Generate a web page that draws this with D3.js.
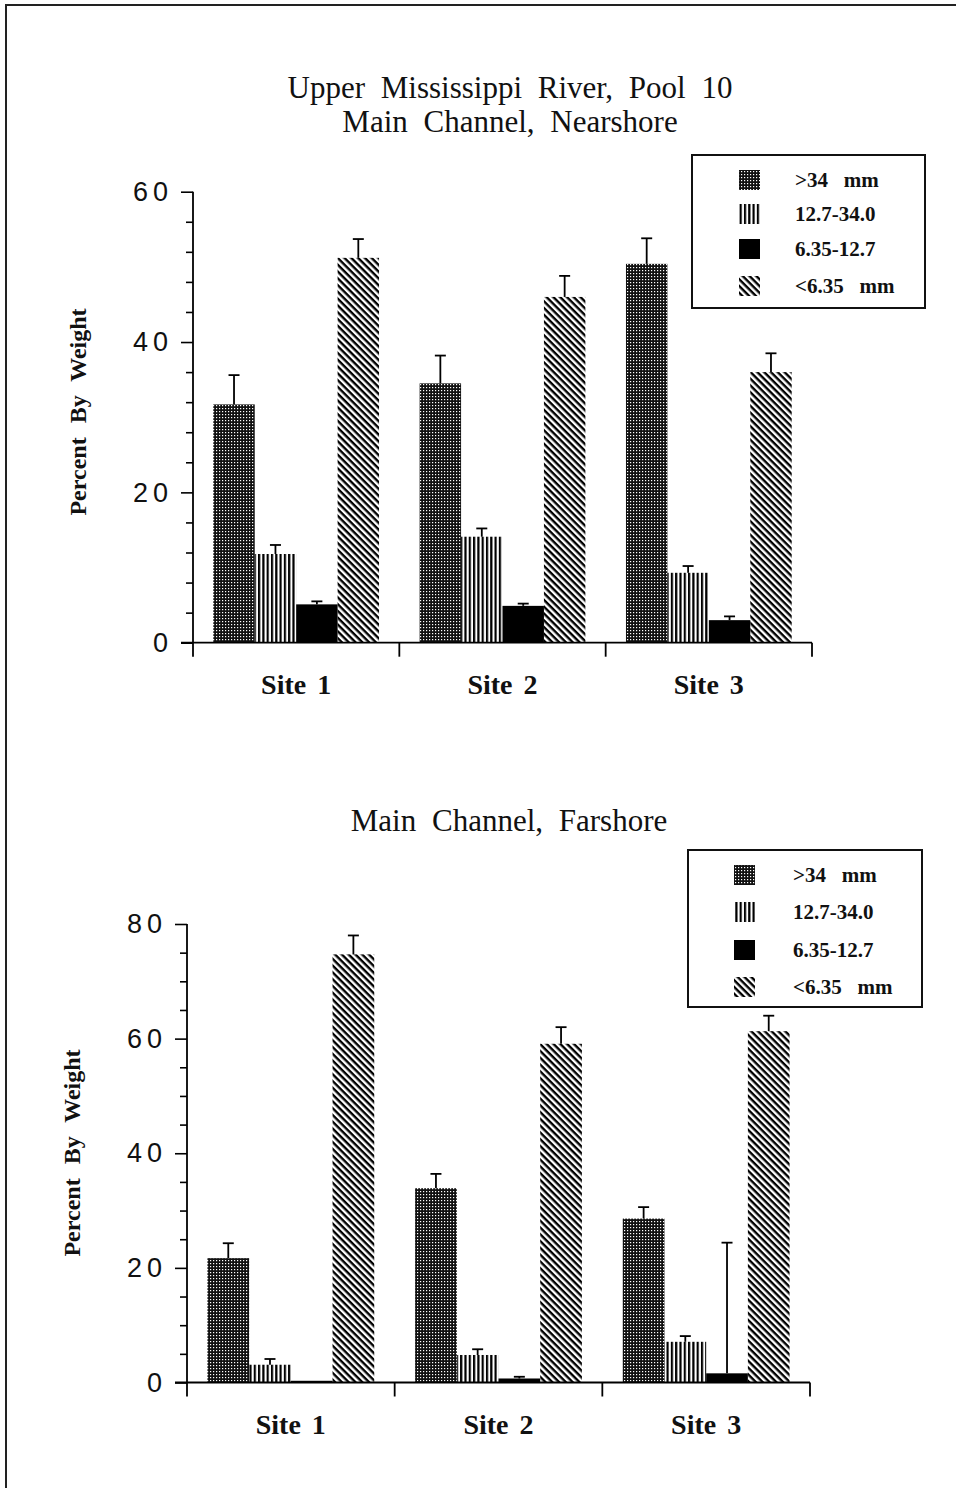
<!DOCTYPE html>
<html>
<head>
<meta charset="utf-8">
<script src="https://cdn.jsdelivr.net/npm/d3@7"></script>
<style>
  body { margin: 0; background: #fff; }
  svg { display: block; }
  .serif { font-family: "Liberation Serif", "Times New Roman", serif; }
  .sans { font-family: "Liberation Sans", Arial, sans-serif; }
</style>
</head>
<body>
<svg id="chart" width="956" height="1488"></svg>
<script>
// ---- data ---------------------------------------------------------------
const sites = ["Site 1", "Site 2", "Site 3"];
const sizeClasses = [">34   mm", "12.7-34.0", "6.35-12.7", "<6.35   mm"];
const fills = ["url(#dots)", "url(#vlines)", "#000", "url(#diag)"];

// Main channel, nearshore: mean percent by weight for each size class
const nearGt34  = [31.7, 34.5, 50.4];
const near127   = [11.8, 14.1, 9.3];
const near635   = [5.1, 4.9, 3.0];
const nearLt635 = [51.2, 46.0, 36.0];
// upper error bars (SE)
const nearErrGt34  = [3.9, 3.7, 3.4];
const nearErr127   = [1.2, 1.1, 0.9];
const nearErr635   = [0.4, 0.3, 0.5];
const nearErrLt635 = [2.5, 2.8, 2.5];

// Main channel, farshore
const farGt34  = [21.7, 33.9, 28.6];
const far127   = [3.1, 4.8, 7.1];
const far635   = [0.3, 0.7, 1.6];
const farLt635 = [74.7, 59.1, 61.3];
const farErrGt34  = [2.6, 2.5, 2.0];
const farErr127   = [1.0, 1.0, 1.0];
const farErr635   = [0.0, 0.3, 22.8];
const farErrLt635 = [3.3, 2.9, 2.7];

const nearTicks = [0, 20, 40, 60];
const farTicks = [0, 20, 40, 60, 80];

// ---- setup --------------------------------------------------------------
const svg = d3.select("#chart");
const defs = svg.append("defs");

// fine dotted screen
const pDots = defs.append("pattern").attr("id", "dots")
  .attr("patternUnits", "userSpaceOnUse").attr("width", 3).attr("height", 3);
pDots.append("rect").attr("width", 3).attr("height", 3).attr("fill", "#111");
pDots.append("rect").attr("width", 1.2).attr("height", 1.2).attr("fill", "#fff");

// vertical stripes
const pV = defs.append("pattern").attr("id", "vlines")
  .attr("patternUnits", "userSpaceOnUse").attr("width", 4.3).attr("height", 10);
pV.append("rect").attr("width", 2.2).attr("height", 10).attr("fill", "#000");

// diagonal stripes running down to the right
const pD = defs.append("pattern").attr("id", "diag")
  .attr("patternUnits", "userSpaceOnUse").attr("width", 4.8).attr("height", 4.8)
  .attr("patternTransform", "rotate(45)");
pD.append("rect").attr("width", 4.8).attr("height", 2.4).attr("fill", "#000");

// page frame (top and left edges)
svg.append("path").attr("d", "M6,1488 V5 H956")
  .attr("fill", "none").attr("stroke", "#222").attr("stroke-width", 2);

function drawPanel(cfg) {
  const g = svg.append("g");
  const y = d3.scaleLinear().domain([0, cfg.max]).range([cfg.y0, cfg.yTop]);
  const x = d3.scaleBand().domain(sites).range([cfg.x0, cfg.x1]);
  const xi = d3.scaleBand().domain(d3.range(4)).range([0, x.bandwidth()])
    .paddingInner(0).paddingOuter(0.49);

  const rows = [];
  sites.forEach((s, si) => {
    cfg.series.forEach((arr, k) => {
      rows.push({ site: s, k, v: arr[si], e: cfg.errs[k][si] });
    });
  });

  // bars
  g.selectAll("rect.bar").data(rows).join("rect")
    .attr("class", "bar")
    .attr("x", d => x(d.site) + xi(d.k))
    .attr("width", xi.bandwidth())
    .attr("y", d => y(d.v))
    .attr("height", d => y(0) - y(d.v))
    .attr("fill", d => fills[d.k]);

  // error bars (upper only)
  const eb = g.selectAll("g.err").data(rows.filter(d => d.e > 0)).join("g")
    .attr("class", "err")
    .attr("stroke", "#000").attr("stroke-width", 1.8);
  eb.append("line")
    .attr("x1", d => x(d.site) + xi(d.k) + xi.bandwidth() / 2)
    .attr("x2", d => x(d.site) + xi(d.k) + xi.bandwidth() / 2)
    .attr("y1", d => y(d.v)).attr("y2", d => y(d.v + d.e));
  eb.append("line")
    .attr("x1", d => x(d.site) + xi(d.k) + xi.bandwidth() / 2 - 5.5)
    .attr("x2", d => x(d.site) + xi(d.k) + xi.bandwidth() / 2 + 5.5)
    .attr("y1", d => y(d.v + d.e)).attr("y2", d => y(d.v + d.e));

  // y axis: major ticks with labels, minor ticks between
  const major = d3.axisLeft(y).tickValues(cfg.ticks).tickSize(12).tickPadding(12)
    .tickFormat(d3.format("d"));
  const ga = g.append("g").attr("transform", `translate(${cfg.x0},0)`).call(major);
  ga.select(".domain").remove();
  ga.selectAll("line").attr("stroke", "#000").attr("stroke-width", 1.6);
  ga.selectAll("text").attr("class", "sans").attr("font-size", 27)
    .attr("letter-spacing", 5).attr("fill", "#111").attr("dx", 4);

  const minorVals = d3.range(0, cfg.max + 0.001, cfg.minorStep)
    .filter(v => !cfg.ticks.includes(v));
  const minor = d3.axisLeft(y).tickValues(minorVals).tickSize(7).tickFormat("");
  const gm = g.append("g").attr("transform", `translate(${cfg.x0},0)`).call(minor);
  gm.select(".domain").remove();
  gm.selectAll("line").attr("stroke", "#000").attr("stroke-width", 1.6);

  // axis lines
  g.append("line").attr("x1", cfg.x0).attr("x2", cfg.x0)
    .attr("y1", y(cfg.max)).attr("y2", y(0) + 14)
    .attr("stroke", "#000").attr("stroke-width", 1.8);
  g.append("line").attr("x1", cfg.x0 - 12).attr("x2", cfg.x1)
    .attr("y1", y(0)).attr("y2", y(0))
    .attr("stroke", "#000").attr("stroke-width", 1.8);

  // category boundary ticks on the x axis
  const bounds = sites.map(s => x(s)).concat([cfg.x1]);
  g.selectAll("line.xt").data(bounds.slice(1)).join("line").attr("class", "xt")
    .attr("x1", d => d).attr("x2", d => d)
    .attr("y1", y(0)).attr("y2", y(0) + 14)
    .attr("stroke", "#000").attr("stroke-width", 1.8);

  g.selectAll("text.site").data(sites).join("text")
    .attr("class", "site serif")
    .attr("x", d => x(d) + x.bandwidth() / 2)
    .attr("y", y(0) + 51)
    .attr("text-anchor", "middle")
    .attr("font-size", 28).attr("font-weight", "bold")
    .attr("word-spacing", 4).attr("fill", "#111")
    .text(d => d);

  // y title
  g.append("text").attr("class", "serif")
    .attr("transform", `translate(${cfg.ytitleX},${cfg.ytitleY}) rotate(-90)`)
    .attr("text-anchor", "middle")
    .attr("font-size", 24).attr("font-weight", "bold")
    .attr("word-spacing", 8).attr("fill", "#111")
    .text("Percent By Weight");

  // titles
  cfg.titles.forEach((t, i) => {
    g.append("text").attr("class", "serif")
      .attr("x", cfg.titleX).attr("y", cfg.titleY + i * 34)
      .attr("text-anchor", "middle")
      .attr("font-size", 31).attr("word-spacing", 8).attr("fill", "#111")
      .text(t);
  });

  // legend
  const L = cfg.legend;
  g.append("rect").attr("x", L.x).attr("y", L.y).attr("width", L.w).attr("height", L.h)
    .attr("fill", "#fff").attr("stroke", "#111").attr("stroke-width", 2);
  sizeClasses.forEach((c, k) => {
    const cy = L.y + L.rows[k];
    g.append("rect").attr("x", L.sx).attr("y", cy - 10).attr("width", 21).attr("height", 20)
      .attr("fill", fills[k]);
    g.append("text").attr("class", "serif")
      .attr("x", L.tx).attr("y", cy + 7)
      .attr("font-size", 21).attr("font-weight", "bold").attr("fill", "#111")
      .style("white-space", "pre")
      .text(c);
  });
}

drawPanel({
  max: 60, ticks: nearTicks, minorStep: 4,
  x0: 193, x1: 812, y0: 642.7, yTop: 191.7,
  series: [nearGt34, near127, near635, nearLt635],
  errs: [nearErrGt34, nearErr127, nearErr635, nearErrLt635],
  ytitleX: 86, ytitleY: 412,
  titles: ["Upper Mississippi River, Pool 10", "Main Channel, Nearshore"],
  titleX: 510, titleY: 98,
  legend: { x: 692, y: 155, w: 233, h: 153, sx: 739, tx: 795, rows: [25, 59, 94, 131] }
});

drawPanel({
  max: 80, ticks: farTicks, minorStep: 5,
  x0: 187, x1: 810, y0: 1382.5, yTop: 924,
  series: [farGt34, far127, far635, farLt635],
  errs: [farErrGt34, farErr127, farErr635, farErrLt635],
  ytitleX: 80, ytitleY: 1153,
  titles: ["Main Channel, Farshore"],
  titleX: 509, titleY: 831,
  legend: { x: 688, y: 850, w: 234, h: 157, sx: 734, tx: 793, rows: [25, 62, 100, 137] }
});
</script>
</body>
</html>
